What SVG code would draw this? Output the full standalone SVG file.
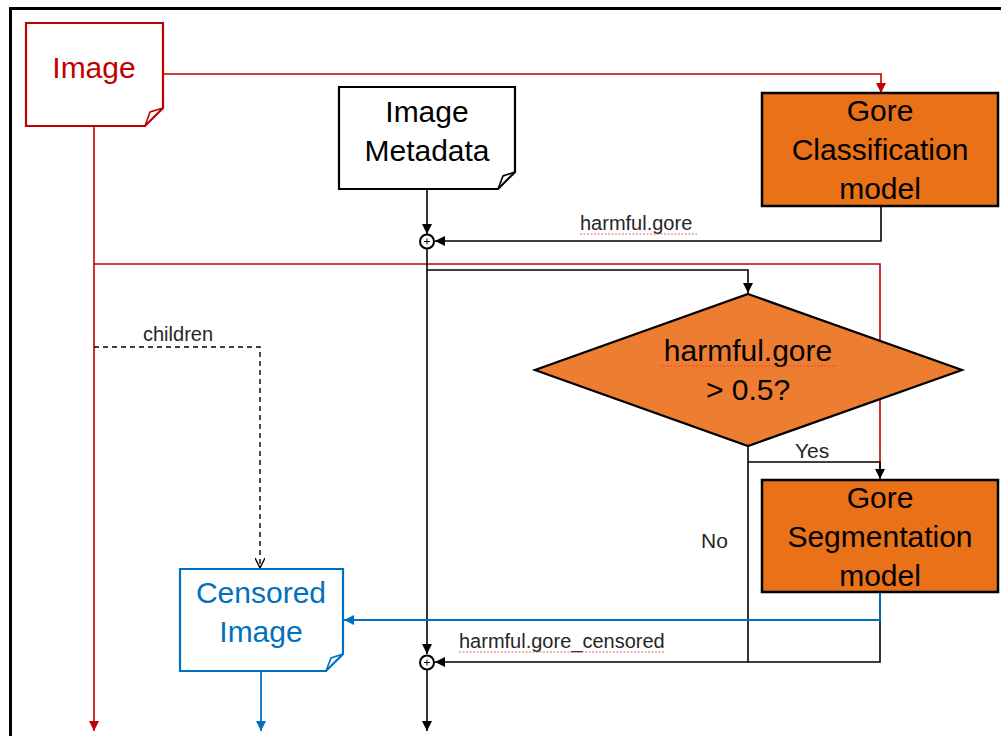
<svg xmlns="http://www.w3.org/2000/svg" width="1001" height="736" viewBox="0 0 1001 736">
  <style>
    .big { font-family: "Liberation Sans", Arial, sans-serif; font-size: 30px; text-anchor: middle; }
    .lbl { font-family: "Liberation Sans", Arial, sans-serif; font-size: 20px; fill: #262626; }
    .k { stroke: #000; stroke-width: 1.6; fill: none; }
    .r { stroke: #C00000; stroke-width: 1.6; fill: none; }
    .b { stroke: #0070C0; stroke-width: 1.8; fill: none; }
    .dash { stroke: #000; stroke-width: 1.4; fill: none; stroke-dasharray: 5 4; }
    .spell { stroke: #E04040; stroke-width: 1; fill: none; stroke-dasharray: 2 1.5; opacity: 0.8; }
    .sum { fill: #fff; stroke: #000; stroke-width: 2; }
  </style>
  <defs>
    <marker id="ah-k" viewBox="0 0 10 10" refX="10" refY="5" markerWidth="10" markerHeight="10" markerUnits="userSpaceOnUse" orient="auto">
      <path d="M0,0 L10,5 L0,10 z" fill="#000"/>
    </marker>
    <marker id="ah-r" viewBox="0 0 10 10" refX="10" refY="5" markerWidth="10" markerHeight="10" markerUnits="userSpaceOnUse" orient="auto">
      <path d="M0,0 L10,5 L0,10 z" fill="#C00000"/>
    </marker>
    <marker id="ah-b" viewBox="0 0 10 10" refX="10" refY="5" markerWidth="10" markerHeight="10" markerUnits="userSpaceOnUse" orient="auto">
      <path d="M0,0 L10,5 L0,10 z" fill="#0070C0"/>
    </marker>
    <marker id="ah-open" viewBox="0 0 10 10" refX="10" refY="5" markerWidth="10" markerHeight="10" markerUnits="userSpaceOnUse" orient="auto">
      <path d="M0,0 L10,5 L0,10" fill="none" stroke="#000" stroke-width="1.4"/>
    </marker>
  </defs>

  <rect width="1001" height="736" fill="#fff"/>
  <!-- page frame -->
  <path d="M10.5,736 V8.5 H1001" fill="none" stroke="#000" stroke-width="3"/>

  <g id="connectors">
    <!-- image feed -->
    <path class="r" d="M163,74 H881 V93" marker-end="url(#ah-r)"/>
    <path class="r" d="M94,126 V731" marker-end="url(#ah-r)"/>
    <path class="r" d="M94,264 H880 V470"/>
    <!-- metadata into first sum -->
    <path class="k" d="M427,189 V234" marker-end="url(#ah-k)"/>
    <!-- classification score -->
    <path class="k" d="M881,206 V241 H435" marker-end="url(#ah-k)"/>
    <!-- main trunk -->
    <path class="k" d="M427,249 V654" marker-end="url(#ah-k)"/>
    <path class="k" d="M427,670 V731" marker-end="url(#ah-k)"/>
    <!-- to decision -->
    <path class="k" d="M427,270 H748 V293" marker-end="url(#ah-k)"/>
    <!-- No branch -->
    <path class="k" d="M748,446 V662 H435" marker-end="url(#ah-k)"/>
    <!-- Yes branch -->
    <path class="k" d="M748,462 H880 V479" marker-end="url(#ah-k)"/>
    <!-- segmentation score -->
    <path class="k" d="M880,592 V662 H748"/>
    <!-- censored output -->
    <path class="b" d="M880,592 V620 H344" marker-end="url(#ah-b)"/>
    <path class="b" d="M261,671 V731" marker-end="url(#ah-b)"/>
    <!-- children -->
    <path class="dash" d="M94,347 H260 V568" marker-end="url(#ah-open)"/>

    <text class="lbl" x="580" y="230">harmful.gore</text>
    <path class="spell" d="M580,234 H697"/>
    <text class="lbl" x="143" y="341">children</text>
    <text class="lbl" x="459" y="648">harmful.gore_censored</text>
    <path class="spell" d="M459,652 H665"/>
    <text class="lbl" x="795" y="458" style="font-size:21px">Yes</text>
    <text class="lbl" x="701" y="548" style="font-size:21px">No</text>
  </g>

  <g id="sum-top">
    <circle class="sum" cx="427" cy="241.5" r="7"/>
    <path d="M424,241.5 H430 M427,238.5 V244.5" stroke="#000" stroke-width="1"/>
  </g>
  <g id="sum-bottom">
    <circle class="sum" cx="427" cy="662.5" r="7"/>
    <path d="M424,662.5 H430 M427,659.5 V665.5" stroke="#000" stroke-width="1"/>
  </g>

  <g id="image">
    <path d="M26,23 H163 V108 L145,126 H26 Z" fill="#fff" stroke="#C00000" stroke-width="2.2"/>
    <path d="M163,108 L150,112 L145,126" fill="none" stroke="#C00000" stroke-width="1.6"/>
    <text class="big" x="94" y="78" fill="#C00000">Image</text>
  </g>

  <g id="image-metadata">
    <path d="M339,87 H515 V172 L498,189 H339 Z" fill="#fff" stroke="#000" stroke-width="2.2"/>
    <path d="M515,172 L503,176 L498,189" fill="none" stroke="#000" stroke-width="1.6"/>
    <text class="big" x="427" y="122" fill="#000">Image</text>
    <text class="big" x="427" y="161" fill="#000">Metadata</text>
  </g>

  <g id="gore-classification">
    <rect x="762" y="93" width="236" height="113" fill="#E97118" stroke="#000" stroke-width="2.5"/>
    <text class="big" x="880" y="121" fill="#000">Gore</text>
    <text class="big" x="880" y="160" fill="#000">Classification</text>
    <text class="big" x="880" y="199" fill="#000">model</text>
  </g>

  <g id="decision">
    <path d="M748,294 L962,370 L748,446 L535,370 Z" fill="#ED7D31" stroke="#000" stroke-width="2.2"/>
    <text class="big" x="748" y="361" fill="#000">harmful.gore</text>
    <path class="spell" d="M660,366 H838"/>
    <text class="big" x="748" y="400" fill="#000">&gt; 0.5?</text>
  </g>

  <g id="gore-segmentation">
    <rect x="762" y="480" width="236" height="112" fill="#E97118" stroke="#000" stroke-width="2.5"/>
    <text class="big" x="880" y="508" fill="#000">Gore</text>
    <text class="big" x="880" y="547" fill="#000">Segmentation</text>
    <text class="big" x="880" y="586" fill="#000">model</text>
  </g>

  <g id="censored-image">
    <path d="M180,569 H343 V654 L326,671 H180 Z" fill="#fff" stroke="#0070C0" stroke-width="2.2"/>
    <path d="M343,654 L331,658 L326,671" fill="none" stroke="#0070C0" stroke-width="1.6"/>
    <text class="big" x="261" y="603" fill="#0070C0">Censored</text>
    <text class="big" x="261" y="642" fill="#0070C0">Image</text>
  </g>
</svg>
